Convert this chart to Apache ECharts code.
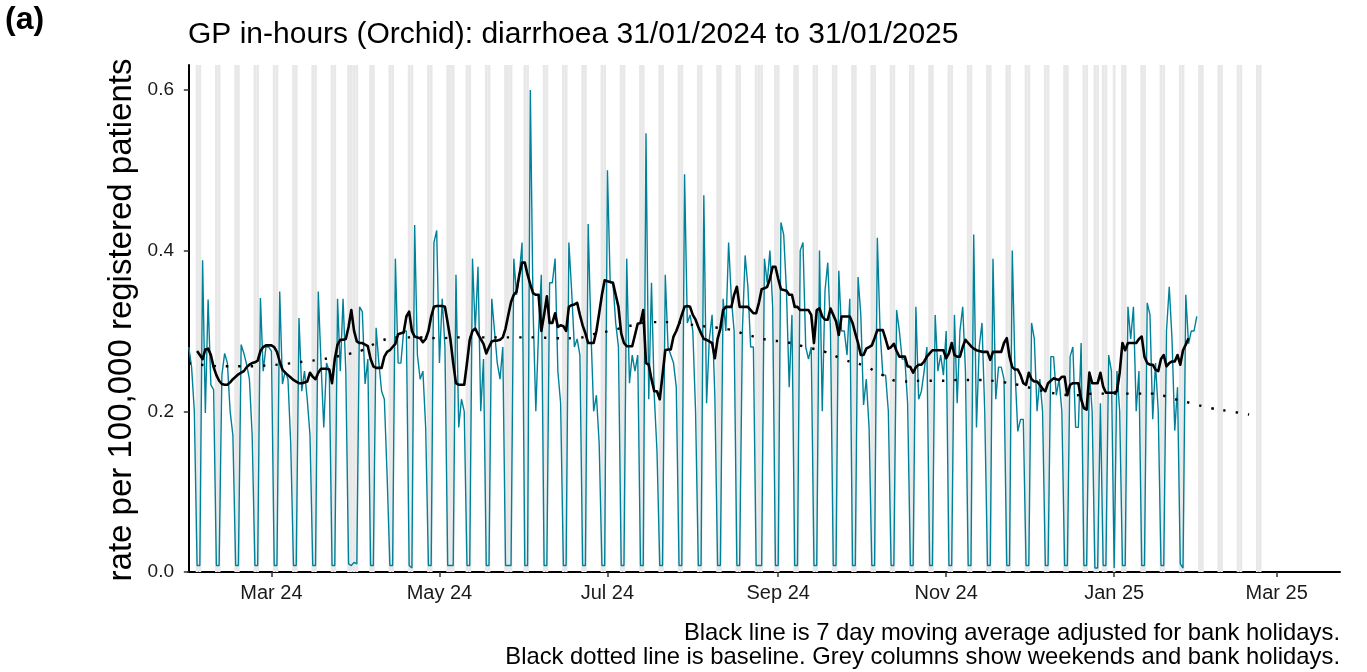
<!DOCTYPE html>
<html><head><meta charset="utf-8">
<script src="https://cdn.jsdelivr.net/npm/echarts@6/dist/echarts.min.js"></script>
<style>html,body{margin:0;padding:0;background:#fff;}#c{width:1367px;height:672px;}</style>
</head><body><div id="c"></div>
<script>
const startDate = '2024-01-31';
// daily rate per 100,000, 31/01/2024 .. 31/01/2025
const dailyRate = [
0.28,0.255,0.2,0.008,0.008,
0.388,0.198,0.339,0.233,0.227,0.008,0.008,
0.245,0.272,0.26,0.2,0.17,0.008,0.008,
0.283,0.272,0.258,0.24,0.17,0.008,0.008,
0.341,0.25,0.28,0.28,0.275,0.008,0.008,
0.349,0.234,0.25,0.24,0.16,0.008,0.008,
0.316,0.225,0.25,0.215,0.17,0.008,0.008,
0.349,0.26,0.18,0.26,0.25,0.008,0.008,
0.34,0.25,0.34,0.25,0.01,0.008,0.012,
0.01,0.33,0.324,0.234,0.265,0.008,0.008,
0.304,0.26,0.225,0.215,0.12,0.008,0.008,
0.39,0.26,0.26,0.3,0.3,0.008,0.005,
0.432,0.27,0.24,0.25,0.18,0.008,0.008,
0.41,0.425,0.26,0.34,0.28,0.008,0.008,
0.008,0.37,0.18,0.215,0.2,0.008,0.008,
0.39,0.3,0.38,0.2,0.265,0.008,0.008,
0.34,0.3,0.26,0.24,0.28,0.008,0.008,
0.008,0.39,0.345,0.37,0.41,0.008,0.008,
0.6,0.326,0.2,0.3,0.37,0.008,0.008,
0.36,0.36,0.39,0.25,0.21,0.008,0.008,
0.41,0.35,0.28,0.29,0.27,0.008,0.008,
0.433,0.3,0.2,0.22,0.16,0.008,0.008,
0.5,0.36,0.36,0.31,0.28,0.008,0.008,
0.39,0.235,0.27,0.25,0.27,0.008,0.008,
0.546,0.215,0.36,0.22,0.15,0.008,0.008,
0.37,0.28,0.27,0.26,0.23,0.008,0.008,
0.495,0.31,0.32,0.3,0.2,0.008,0.008,
0.469,0.21,0.29,0.32,0.22,0.008,0.008,
0.34,0.3,0.41,0.34,0.3,0.008,0.008,
0.3,0.394,0.355,0.28,0.28,0.008,0.008,
0.008,0.39,0.36,0.4,0.33,0.008,0.008,
0.435,0.42,0.35,0.23,0.32,0.008,0.008,
0.4,0.41,0.28,0.265,0.28,0.008,0.008,
0.4,0.2,0.35,0.385,0.3,0.008,0.008,
0.375,0.3,0.3,0.27,0.34,0.008,0.008,
0.367,0.32,0.208,0.24,0.18,0.008,0.008,
0.416,0.3,0.245,0.245,0.2,0.008,0.008,
0.326,0.3,0.265,0.265,0.21,0.008,0.008,
0.33,0.215,0.225,0.25,0.28,0.008,0.008,
0.32,0.25,0.27,0.245,0.3,0.008,0.008,
0.32,0.21,0.3,0.33,0.25,0.008,0.008,
0.42,0.18,0.28,0.31,0.2,0.008,0.008,
0.39,0.215,0.255,0.255,0.24,0.008,0.008,
0.4,0.25,0.175,0.19,0.19,0.008,0.008,
0.31,0.29,0.2,0.24,0.2,0.008,0.008,
0.268,0.268,0.22,0.24,0.2,0.008,0.008,
0.268,0.28,0.18,0.18,0.285,0.008,0.008,
0.25,0.2,0.005,0.005,0.21,0.008,0.008,
0.27,0.25,0.005,0.25,0.2,0.008,0.008,
0.33,0.29,0.33,0.2,0.25,0.008,0.008,
0.335,0.32,0.19,0.26,0.2,0.008,0.008,
0.3,0.355,0.29,0.176,0.23,0.01,0.005,
0.345,0.284,0.3,0.3,0.318
];
// 7 day moving average, from 03/02/2024 .. 28/01/2025
const movingAvgStart = '2024-02-03';
const movingAvg = [
0.275,0.27,0.265,0.277,0.278,0.27,0.255,0.245,0.238,0.234,0.233,0.233,0.236,0.24,0.243,0.246,0.248,0.25,0.255,0.258,0.26,0.261,0.263,0.275,0.28,0.282,0.282,0.282,0.28,0.274,
0.262,0.252,0.248,0.245,0.242,0.239,0.237,0.235,0.235,0.236,0.237,0.248,0.243,0.24,0.248,0.253,0.253,0.253,0.252,0.235,0.265,0.283,0.289,0.289,0.29,0.305,0.326,0.3,0.287,0.285,0.285,0.283,0.281,
0.265,0.256,0.254,0.254,0.254,0.268,0.274,0.276,0.28,0.284,0.296,0.297,0.298,0.318,0.324,0.3,0.293,0.292,0.291,0.286,0.29,0.3,0.318,0.33,0.331,0.331,0.331,0.33,0.31,0.289,0.26,0.235,0.233,
0.233,0.233,0.26,0.289,0.3,0.303,0.296,0.29,0.284,0.272,0.28,0.287,0.288,0.288,0.289,0.292,0.303,0.32,0.336,0.345,0.349,0.37,0.385,0.385,0.37,0.358,0.347,0.345,0.345,0.3,0.32,0.343,0.31,
0.31,0.322,0.305,0.307,0.306,0.3,0.33,0.332,0.333,0.335,0.32,0.307,0.297,0.285,0.285,0.285,0.3,0.322,0.345,0.363,0.362,0.361,0.36,0.345,0.33,0.297,0.285,0.281,0.281,0.281,0.295,0.309,0.31,
0.326,0.26,0.258,0.24,0.225,0.225,0.215,0.245,0.276,0.277,0.277,0.293,0.3,0.309,0.32,0.33,0.331,0.33,0.32,0.314,0.305,0.297,0.29,0.289,0.287,0.285,0.266,0.29,0.303,0.326,0.33,0.33,
0.33,0.345,0.355,0.33,0.33,0.33,0.33,0.326,0.322,0.322,0.335,0.352,0.353,0.355,0.365,0.38,0.38,0.365,0.352,0.351,0.35,0.345,0.345,0.33,0.33,0.326,0.326,0.326,0.326,0.32,0.285,0.326,0.328,
0.318,0.314,0.314,0.328,0.32,0.312,0.295,0.318,0.318,0.318,0.318,0.31,0.297,0.285,0.27,0.27,0.278,0.28,0.282,0.291,0.301,0.301,0.301,0.29,0.278,0.28,0.284,0.275,0.268,0.268,0.268,0.256,
0.255,0.248,0.255,0.258,0.258,0.262,0.268,0.272,0.276,0.276,0.276,0.276,0.276,0.266,0.272,0.285,0.27,0.268,0.268,0.28,0.289,0.285,0.281,0.278,0.276,0.275,0.274,0.274,0.274,0.264,0.274,0.274,0.274,
0.274,0.285,0.291,0.268,0.255,0.252,0.252,0.245,0.235,0.233,0.248,0.24,0.237,0.237,0.233,0.228,0.225,0.235,0.238,0.241,0.24,0.239,0.243,0.243,0.22,0.233,0.235,0.235,0.235,0.215,0.204,0.202,
0.248,0.235,0.235,0.235,0.248,0.231,0.223,0.223,0.223,0.223,0.225,0.248,0.285,0.276,0.285,0.285,0.285,0.285,0.29,0.293,0.268,0.26,0.258,0.258,0.252,0.25,0.265,0.27,0.256,0.26,0.262,0.262,0.27,0.258,0.276,0.283,0.291
];
// baseline, one value every 7 days from 31/01/2024
const baselineWeekly = [
0.26,0.257,0.256,0.256,0.257,0.259,0.262,0.265,0.27,0.276,
0.288,0.292,0.292,0.291,0.292,0.292,0.292,0.292,0.292,0.291,
0.291,0.296,0.301,0.307,0.311,0.311,0.308,0.305,0.302,0.295,
0.289,0.286,0.28,0.274,0.264,0.257,0.245,0.237,0.238,0.238,
0.239,0.239,0.237,0.233,0.227,0.222,0.22,0.222,0.222,0.222,
0.222,0.216,0.21,0.204,0.2,0.196
];
const bankHolidays = ['2024-03-29','2024-04-01','2024-05-06','2024-05-27','2024-08-26','2024-12-25','2024-12-26','2025-01-01'];
const greyEnd = '2025-02-23';
const axisEnd = '2025-03-24';
const tickDates = ['2024-03-01','2024-05-01','2024-07-01','2024-09-01','2024-11-01','2025-01-01','2025-03-01'];
const tickLabels = ['Mar 24','May 24','Jul 24','Sep 24','Nov 24','Jan 25','Mar 25'];
const yTicks = [0, 0.2, 0.4, 0.6];

const DAY = 86400000;
const t0 = Date.parse(startDate);
const dayOf = s => Math.round((Date.parse(s) - t0) / DAY);
const rateData = dailyRate.map((v, i) => [i, v]);
const maStart = dayOf(movingAvgStart);
const maData = movingAvg.map((v, i) => [maStart + i, v]);
const baseData = baselineWeekly.map((v, i) => [i * 7, v]);
const bhDays = new Set(bankHolidays.map(dayOf));
const greyData = [];
for (let d = 0; d <= dayOf(greyEnd); d++) {
  const wd = new Date(t0 + d * DAY).getUTCDay();
  if (wd === 0 || wd === 6 || bhDays.has(d)) greyData.push([d, 0]);
}
const tickDays = tickDates.map(dayOf);

const FONT = '"Liberation Sans", Arial, sans-serif';
const chart = echarts.init(document.getElementById('c'), null, {renderer: 'canvas'});
chart.setOption({
  animation: false,
  backgroundColor: '#ffffff',
  grid: {left: 188, right: 27, top: 65, bottom: 100, containLabel: false},
  xAxis: {
    type: 'value',
    min: -0.3,
    max: dayOf(axisEnd),
    axisLine: {show: true, lineStyle: {color: '#000', width: 2}},
    axisTick: {show: true, length: 5, lineStyle: {color: '#333', width: 1.5}, customValues: tickDays},
    axisLabel: {
      customValues: tickDays, margin: 11, color: '#1a1a1a', fontSize: 20, fontFamily: FONT,
      formatter: v => tickLabels[tickDays.indexOf(v)] || ''
    },
    splitLine: {show: false}
  },
  yAxis: {
    type: 'value', min: 0, max: 0.631,
    axisLine: {show: true, lineStyle: {color: '#000', width: 2}},
    axisTick: {show: true, length: 5, lineStyle: {color: '#333', width: 1.5}, customValues: yTicks},
    axisLabel: {customValues: yTicks, margin: 14, color: '#1a1a1a', fontSize: 19, fontFamily: FONT,
      formatter: v => v.toFixed(1)},
    splitLine: {show: false}
  },
  series: [
    {
      type: 'custom', z: 1, silent: true, clip: true,
      data: greyData,
      encode: {x: 0, y: 1},
      renderItem: (params, api) => {
        const d = api.value(0);
        const a = api.coord([d - 0.5, 0]);
        const b = api.coord([d + 0.5, 0]);
        const cs = params.coordSys;
        return {type: 'rect', shape: {x: a[0], y: cs.y, width: b[0] - a[0], height: cs.height},
          style: {fill: '#e8e8e8'}};
      }
    },
    {type: 'line', z: 2, data: rateData, showSymbol: false, silent: true,
      lineStyle: {color: '#00819A', width: 1.4}},
    {type: 'line', z: 3, data: baseData, showSymbol: false, silent: true, smooth: true,
      lineStyle: {color: '#000', width: 2.4, type: [2.4, 10]}},
    {type: 'line', z: 4, data: maData, showSymbol: false, silent: true,
      lineStyle: {color: '#000', width: 2.6, join: 'round'}}
  ],
  graphic: [
    {type: 'text', x: 5, y: 20, style: {text: '(a)', font: 'bold 32px ' + FONT, fill: '#000', verticalAlign: 'middle'}},
    {type: 'text', x: 188, y: 35, style: {text: 'GP in-hours (Orchid): diarrhoea 31/01/2024 to 31/01/2025', font: '30px ' + FONT, fill: '#000', verticalAlign: 'middle'}},
    {type: 'text', x: 122, y: 320, rotation: Math.PI / 2,
      style: {text: 'rate per 100,000 registered patients', font: '33px ' + FONT, fill: '#000', align: 'center', verticalAlign: 'middle'}},
    {type: 'text', x: 1340, y: 633, style: {text: 'Black line is 7 day moving average adjusted for bank holidays.', font: '23.8px ' + FONT, fill: '#000', align: 'right', verticalAlign: 'middle'}},
    {type: 'text', x: 1340, y: 657, style: {text: 'Black dotted line is baseline. Grey columns show weekends and bank holidays.', font: '23.8px ' + FONT, fill: '#000', align: 'right', verticalAlign: 'middle'}}
  ]
});
</script></body></html>
